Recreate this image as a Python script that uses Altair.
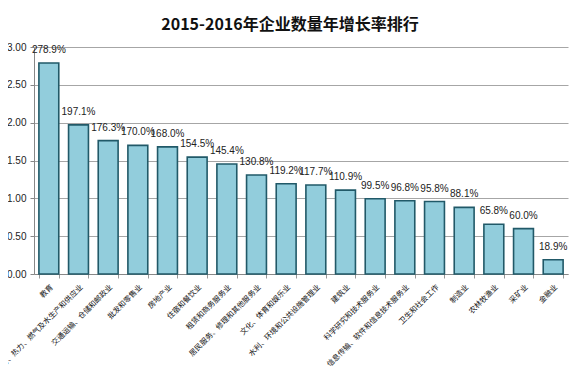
import altair as alt
import pandas as pd

industries = [
    "教育",
    "电力、热力、燃气及水生产和供应业",
    "交通运输、仓储和邮政业",
    "批发和零售业",
    "房地产业",
    "住宿和餐饮业",
    "租赁和商务服务业",
    "居民服务、修理和其他服务业",
    "文化、体育和娱乐业",
    "水利、环境和公共设施管理业",
    "建筑业",
    "科学研究和技术服务业",
    "信息传输、软件和信息技术服务业",
    "卫生和社会工作",
    "制造业",
    "农林牧渔业",
    "采矿业",
    "金融业",
]
growth = [2.789, 1.971, 1.763, 1.700, 1.680, 1.545, 1.454, 1.308, 1.192,
          1.177, 1.109, 0.995, 0.968, 0.958, 0.881, 0.658, 0.600, 0.189]
y_ticks = [0.0, 0.5, 1.0, 1.5, 2.0, 2.5, 3.0]

df = pd.DataFrame({"industry": industries, "growth": growth})
df["label"] = [f"{v * 100:.1f}%" for v in growth]

x_enc = alt.X(
    "industry:N",
    sort=industries,
    scale=alt.Scale(paddingInner=0.33, paddingOuter=0.165),
    axis=alt.Axis(
        title=None,
        labelAngle=-45,
        labelFontSize=7.5,
        labelFont="Noto Sans CJK SC",
        labelColor="#111111",
        labelLimit=0,
        labelPadding=5,
        labelOverlap=False,
        tickBand="extent",
        tickSize=4,
        tickColor="#999999",
        domainColor="#888888",
        grid=False,
    ),
)
y_enc = alt.Y(
    "growth:Q",
    scale=alt.Scale(domain=[0, 3], nice=False),
    axis=alt.Axis(
        title=None,
        values=y_ticks,
        format=".2f",
        labelFontSize=10,
        labelFont="Liberation Sans",
        labelColor="#222222",
        labelPadding=4,
        labelOverlap=False,
        tickSize=4,
        tickColor="#888888",
        domainColor="#888888",
        gridColor="#A6A6A6",
        gridWidth=1,
    ),
)

bars = alt.Chart(df).mark_bar(
    color="#92CDDC", stroke="#215968", strokeWidth=1.6
).encode(x=x_enc, y=y_enc)

texts = alt.Chart(df).mark_text(
    dy=-8, fontSize=10, font="Liberation Sans", color="#222222", baseline="bottom"
).encode(x=x_enc, y=y_enc, text="label:N")

chart = (
    alt.layer(bars, texts)
    .properties(
        width=534,
        height=227,
        title=alt.TitleParams(
            "2015-2016年企业数量年增长率排行",
            font="Noto Sans CJK SC",
            fontSize=16,
            fontWeight="bold",
            color="#111111",
            anchor="middle",
            dx=-11,
            offset=9,
        ),
        autosize=alt.AutoSizeParams(type="none"),
        padding={"left": 26, "top": 39, "right": 4, "bottom": 92},
        background="white",
    )
    .configure_view(stroke=None)
)

chart.save("out.html", embed_options={"renderer": "svg", "actions": False})
